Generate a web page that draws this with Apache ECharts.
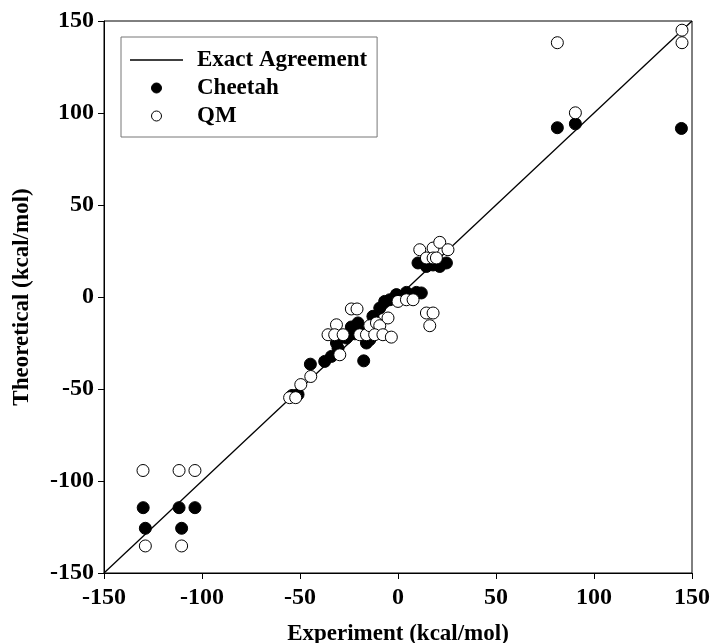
<!DOCTYPE html>
<html>
<head>
<meta charset="utf-8">
<script src="https://cdn.jsdelivr.net/npm/echarts@6/dist/echarts.min.js"></script>
<style>
html,body{margin:0;padding:0;background:#fff;}
#chart{width:712px;height:643px;}
</style>
</head>
<body>
<div id="chart"></div>
<script>
var agreementLine = [[-150, -150], [150, 150]];

var cheetah = [
  [-130, -114.5], [-111.7, -114.5], [-103.6, -114.5], [-128.9, -125.7], [-110.4, -125.7],
  [81.3, 92], [90.5, 94.1], [144.6, 91.6],
  [-54, -53.5], [-51, -53],
  [-44.7, -36.5], [-37.4, -35], [-34, -32.3], [-30.6, -27.8], [-31.4, -25],
  [-26.3, -22.3], [-22, -20], [-19.5, -18.7], [-23.8, -16.3], [-20.4, -14.1],
  [-17.5, -34.7], [-16.1, -25], [-14.4, -23.2], [-12.8, -10.5], [-9.3, -6],
  [-6.8, -2.4], [-4.2, -1.5], [-0.8, 1.3], [4.3, 2.5], [9.4, 2.5], [11.9, 2.2],
  [10.2, 18.5], [14.5, 16.6], [17.9, 17.4], [21.3, 16.6], [24.7, 18.5], [19, 18]
];

var qm = [
  [-130.1, -94.3], [-111.7, -94.3], [-103.6, -94.3], [-128.9, -135.3], [-110.4, -135.3],
  [81.3, 138.2], [144.9, 145], [144.9, 138.2], [90.5, 100.1],
  [-55.3, -54.7], [-52.2, -54.7], [-49.6, -47.6], [-44.5, -43.2],
  [-29.7, -31.4], [-35.7, -20.5], [-31.4, -15.1], [-32.3, -20.5], [-28, -20.5],
  [-23.8, -6.5], [-20.9, -6.5], [-19.5, -20.5], [-16.1, -20.5], [-14.4, -15.6],
  [-11, -14.1], [-9.3, -15.6], [-11.9, -20.5], [-7.7, -20.5], [-3.4, -21.8],
  [-5.1, -11.4], [0, -2.4], [4.3, -1.5], [7.7, -1.5],
  [14.5, -8.7], [17.9, -8.7], [16.2, -15.6],
  [11.1, 25.7], [17.9, 26.6], [21.3, 29.7], [25.5, 25.7], [14.5, 21.2], [17.9, 21.2], [19.6, 21.2]
];

var axisTicks = { min: -150, max: 150, interval: 50 };
var xTitle = 'Experiment (kcal/mol)';
var yTitle = 'Theoretical (kcal/mol)';

var font = 'Liberation Serif';

function axis(name, gap) {
  return {
    type: 'value',
    min: axisTicks.min, max: axisTicks.max, interval: axisTicks.interval,
    name: name, nameLocation: 'middle', nameGap: gap,
    nameTextStyle: { fontFamily: font, fontWeight: 'bold', fontSize: 23, color: '#000' },
    axisLine: { show: true, onZero: false, lineStyle: { color: '#000', width: 1 } },
    axisTick: { show: true, inside: false, length: 6, lineStyle: { color: '#000' } },
    axisLabel: { fontFamily: font, fontWeight: 'bold', fontSize: 24, color: '#000', margin: 10 },
    splitLine: { show: false }
  };
}

var chart = echarts.init(document.getElementById('chart'), null, { renderer: 'canvas' });
var xa = axis(xTitle, 50);
xa.axisLabel.margin = 13;
var ya = axis(yTitle, 70);

chart.setOption({
  backgroundColor: '#fff',
  animation: false,
  grid: { left: 104, right: 20, top: 21, bottom: 70, show: true, borderColor: '#000', borderWidth: 1,
          containLabel: false, outerBoundsMode: 'none' },
  xAxis: xa,
  yAxis: ya,
  legend: {
    orient: 'vertical',
    left: 121, top: 37,
    padding: [11, 10, 9, 9],
    itemGap: 4,
    itemWidth: 53, itemHeight: 10,
    backgroundColor: '#fff',
    borderColor: '#777', borderWidth: 1,
    textStyle: { fontFamily: font, fontWeight: 'bold', fontSize: 23, color: '#000', lineHeight: 24, padding: [0, 0, 0, 9] },
    data: [
      { name: 'Exact Agreement', icon: 'path://M0,0 L53,0 L53,1.3 L0,1.3 Z', itemStyle: { color: '#000' } },
      { name: 'Cheetah', icon: 'circle', itemStyle: { color: '#000', borderColor: '#000', borderWidth: 1 } },
      { name: 'QM', icon: 'circle', itemStyle: { color: '#fff', borderColor: '#000', borderWidth: 1 } }
    ]
  },
  series: [
    {
      name: 'Exact Agreement', type: 'line', data: agreementLine,
      symbol: 'none', itemStyle: { color: '#000' }, lineStyle: { color: '#000', width: 1.3 }, z: 1
    },
    {
      name: 'Cheetah', type: 'scatter', data: cheetah,
      symbol: 'circle', symbolSize: 12,
      itemStyle: { color: '#000', borderColor: '#000', borderWidth: 1, opacity: 1 }, z: 2
    },
    {
      name: 'QM', type: 'scatter', data: qm,
      symbol: 'circle', symbolSize: 12,
      itemStyle: { color: '#fff', borderColor: '#000', borderWidth: 1, opacity: 1 }, z: 3
    }
  ]
});
</script>
</body>
</html>
